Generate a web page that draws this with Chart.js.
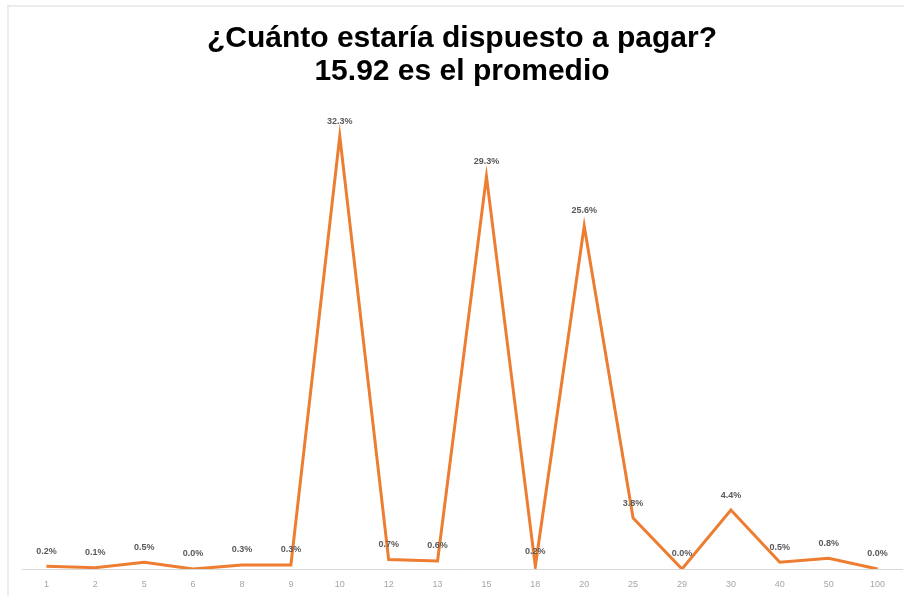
<!DOCTYPE html>
<html>
<head>
<meta charset="utf-8">
<script src="https://cdn.jsdelivr.net/npm/chart.js@4/dist/chart.umd.min.js"></script>
<style>
  html, body { margin: 0; padding: 0; background: #fff; }
  .frame {
    position: absolute; left: 7px; top: 5px; width: 897px; height: 591px;
    border-left: 2px solid #ececec; border-top: 2px solid #ececec;
    box-sizing: border-box;
  }
  .wrap { position: absolute; left: 0; top: 0; width: 904px; height: 596px; }
</style>
</head>
<body>
<div class="frame"></div>
<div class="wrap"><canvas id="chart"></canvas></div>
<script>
// Montos (categorías) y porcentaje de respuestas
const amounts = ['1', '2', '5', '6', '8', '9', '10', '12', '13', '15', '18', '20', '25', '29', '30', '40', '50', '100'];
const shares = [0.2, 0.1, 0.5, 0.0, 0.3, 0.3, 32.3, 0.7, 0.6, 29.3, 0.2, 25.6, 3.8, 0.0, 4.4, 0.5, 0.8, 0.0];
const titleLines = ['¿Cuánto estaría dispuesto a pagar?', '15.92 es el promedio'];

// draws "x.x%" above each point
const pointLabels = {
  id: 'pointLabels',
  afterDatasetsDraw(chart) {
    const ctx = chart.ctx;
    const meta = chart.getDatasetMeta(0);
    ctx.save();
    ctx.font = 'bold 9px "Liberation Sans", Arial, sans-serif';
    ctx.fillStyle = '#595959';
    ctx.textAlign = 'center';
    ctx.textBaseline = 'middle';
    meta.data.forEach((pt, i) => {
      ctx.fillText(shares[i].toFixed(1) + '%', pt.x, pt.y - 15);
    });
    ctx.restore();
  }
};

new Chart(document.getElementById('chart'), {
  type: 'line',
  data: {
    labels: amounts,
    datasets: [{
      data: shares,
      borderColor: '#ED7D31',
      borderWidth: 3,
      pointRadius: 0,
      tension: 0,
      fill: false
    }]
  },
  options: {
    responsive: true,
    maintainAspectRatio: false,
    animation: false,
    layout: { padding: { left: 22, right: 2, top: 0, bottom: 0 } },
    plugins: {
      legend: { display: false },
      tooltip: { enabled: false },
      title: {
        display: true,
        text: titleLines,
        color: '#000',
        font: { family: '"Liberation Sans", Arial, sans-serif', size: 30, weight: 'bold', lineHeight: 1.1 },
        padding: { top: 22, bottom: 12 }
      }
    },
    scales: {
      x: {
        offset: true,
        grid: { display: false, drawTicks: false },
        border: { color: '#d9d9d9', width: 1 },
        ticks: { color: '#a6a6a6', font: { family: '"Liberation Sans", Arial, sans-serif', size: 9 }, padding: 10, maxRotation: 0, autoSkip: false },
        afterFit(scale) { scale.height = 27; }
      },
      y: {
        display: false,
        min: 0,
        max: 35
      }
    }
  },
  plugins: [pointLabels]
});
</script>
</body>
</html>
